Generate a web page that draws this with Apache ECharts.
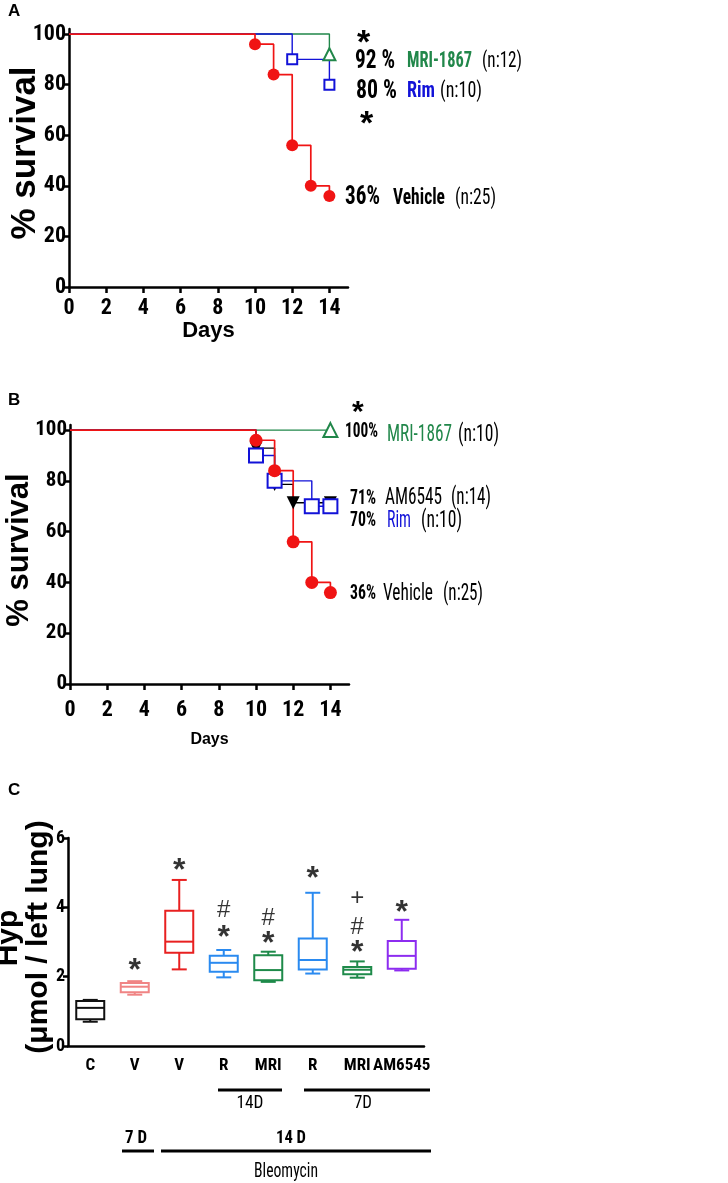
<!DOCTYPE html>
<html><head><meta charset="utf-8">
<script src="https://cdn.jsdelivr.net/npm/echarts@6/dist/echarts.min.js"></script>
<style>html,body{margin:0;padding:0;background:#fff}#c{width:728px;height:1183px}</style>
</head><body><div id="c"></div>
<script>
// ---------- Panel A (survival) ----------
const daysA_vehicle = [10, 11, 12, 13, 14];
const survA_vehicle = [96, 84, 56, 40, 36];
const daysA_rim = [12, 14];
const survA_rim = [90, 80];
const daysA_mri = [14];
const survA_mri = [92];
// ---------- Panel B (survival) ----------
const daysB_vehicle = [10, 11, 12, 13, 14];
const survB_vehicle = [96, 84, 56, 40, 36];
const daysB_am = [10, 11, 12, 14];
const survB_am = [92.9, 78.6, 71.4, 71.4];
const daysB_rim = [10, 11, 13, 14];
const survB_rim = [90, 80, 70, 70];
const daysB_mri = [14];
const survB_mri = [100];
const dayTicks = [0, 2, 4, 6, 8, 10, 12, 14];
const survTicks = [0, 20, 40, 60, 80, 100];
// ---------- Panel C (hydroxyproline box plots) ----------
const hypCategories = ['C', 'V', 'V', 'R', 'MRI', 'R', 'MRI', 'AM6545'];
const hypMin    = [0.70, 1.48, 2.21, 1.98, 1.85, 2.09, 1.97, 2.18];
const hypQ1     = [0.77, 1.55, 2.69, 2.14, 1.90, 2.21, 2.07, 2.23];
const hypMedian = [1.10, 1.71, 3.01, 2.40, 2.19, 2.48, 2.20, 2.60];
const hypQ3     = [1.30, 1.82, 3.90, 2.60, 2.62, 3.10, 2.28, 3.03];
const hypMax    = [1.33, 1.87, 4.79, 2.77, 2.72, 4.42, 2.44, 3.64];
const hypTicks = [0, 2, 4, 6];
// significance marks: category index, height, symbol
const sigCat  = [1, 2, 3, 3, 4, 4, 5, 6, 6, 6, 7];
const sigY    = [2.34, 5.22, 3.92, 3.29, 3.69, 3.12, 4.99, 4.27, 3.43, 2.86, 4.01];
const sigText = ['*', '*', '#', '*', '#', '*', '*', '+', '#', '*', '*'];

// ---- pick a condensed font if one is installed ----
function hasFont(f) {
  const c = document.createElement('canvas').getContext('2d');
  const s = 'MRI-1867 AM6545 abcdefghijklm 0123456789';
  let ok = false;
  ['monospace', 'serif'].forEach(fb => {
    c.font = 'bold 40px ' + fb; const w1 = c.measureText(s).width;
    c.font = 'bold 40px "' + f + '", ' + fb; const w2 = c.measureText(s).width;
    if (Math.abs(w1 - w2) > 0.5) ok = true;
  });
  return ok;
}
const narrowCands = ['Liberation Sans Narrow', 'Arial Narrow', 'Roboto Condensed', 'Open Sans Condensed', 'Noto Sans Condensed'];
let narrowFound = null;
for (const f of narrowCands) { if (hasFont(f)) { narrowFound = f; break; } }
const NARROW = narrowFound ? "'" + narrowFound + "', 'Liberation Sans', sans-serif" : "'Liberation Sans', Arial, sans-serif";
const AF = narrowFound ? 1 : 0.9;     // axis label size factor
const SANS = "'Liberation Sans', Arial, sans-serif";
const RED = '#f01414', BLUE = '#1212d8', GREEN = '#21874a', BLACK = '#000';
const boxColors = ['#111111', '#f08484', '#e82020', '#2a8af0', '#1e8a4a', '#2a8af0', '#1e8a4a', '#8d2cf0'];

const mctx = document.createElement('canvas').getContext('2d');
function fitScale(font, text, w) { mctx.font = font; const m = mctx.measureText(text).width; return m > 0 ? w / m : 1; }

function km(days, surv) { return [[0, 100]].concat(days.map((d, i) => [d, surv[i]])); }
function pts(days, surv) { return days.map((d, i) => [d, surv[i]]); }

function survXAxis(gi, fs, margin, nameGap, nameSize) {
  return {
    type: 'value', gridIndex: gi, min: 0, max: 15,
    axisLine: { lineStyle: { color: '#000', width: 2.5 } },
    axisTick: { length: 6, lineStyle: { width: 2.5, color: '#000' }, customValues: dayTicks },
    axisLabel: { customValues: dayTicks, color: '#000', fontFamily: NARROW, fontWeight: 'bold', fontSize: Math.round(fs * AF), margin: margin },
    splitLine: { show: false },
    name: 'Days', nameLocation: 'middle', nameGap: nameGap,
    nameTextStyle: { color: '#000', fontFamily: SANS, fontWeight: 'bold', fontSize: nameSize }
  };
}
function survYAxis(gi, fs) {
  return {
    type: 'value', gridIndex: gi, min: 0, max: 102,
    axisLine: { show: true, lineStyle: { color: '#000', width: 2.5 } },
    axisTick: { show: true, length: 5, lineStyle: { width: 2.5, color: '#000' }, customValues: survTicks },
    axisLabel: { customValues: survTicks, color: '#000', fontFamily: NARROW, fontWeight: 'bold', fontSize: Math.round(fs * AF), margin: 3 },
    splitLine: { show: false }
  };
}
function stepLine(xi, data, color, z, w) {
  return { type: 'line', xAxisIndex: xi, yAxisIndex: xi, data: data, step: 'end', showSymbol: false,
    lineStyle: { color: color, width: w || 1.4 }, z: z, silent: true, animation: false };
}
function marks(xi, data, symbol, size, color, filled, rotate) {
  return { type: 'scatter', xAxisIndex: xi, yAxisIndex: xi, data: data, symbol: symbol, symbolSize: size,
    symbolRotate: rotate || 0,
    itemStyle: filled ? { color: color, opacity: 1 } : { color: '#fff', borderColor: color, borderWidth: 2, opacity: 1 },
    z: 10, silent: true, animation: false };
}

const boxData = hypCategories.map((c, i) => [i, hypMin[i], hypQ1[i], hypMedian[i], hypQ3[i], hypMax[i]]);

function txt(x, y, text, o) {
  o = o || {};
  const font = (o.bold ? 'bold ' : '') + (o.size || 18) + 'px ' + (o.family || NARROW);
  const sq = o.w ? fitScale(font, text, o.w) : 1;
  return { type: 'text', x: x, y: y, rotation: o.rot || 0, scaleX: sq, silent: true,
    style: { text: text, fill: o.color || '#000', font: font,
      align: o.align || 'left', verticalAlign: 'middle' } };
}
function hline(x1, x2, y) {
  return { type: 'line', silent: true, shape: { x1: x1, y1: y, x2: x2, y2: y }, style: { stroke: '#000', lineWidth: 3 } };
}

const graphics = [
  txt(8, 11, 'A', { bold: true, size: 17, family: SANS }),
  txt(8, 400, 'B', { bold: true, size: 17, family: SANS }),
  txt(8, 790, 'C', { bold: true, size: 17, family: SANS }),
  txt(25, 153, '% survival', { bold: true, size: 35, family: SANS, rot: Math.PI / 2, align: 'center' }),
  txt(19, 550, '% survival', { bold: true, size: 31, family: SANS, rot: Math.PI / 2, align: 'center' }),
  txt(9, 938, 'Hyp', { bold: true, size: 30, family: SANS, rot: Math.PI / 2, align: 'center' }),
  txt(39, 937, '(\u03bcmol / left lung)', { bold: true, size: 30, family: SANS, rot: Math.PI / 2, align: 'center' }),
  // Panel A labels
  txt(357, 44, '*', { bold: true, size: 34, family: SANS }),
  txt(355, 62, '92 %', { bold: true, size: 25, w: 40 }),
  txt(407, 61, 'MRI-1867', { bold: true, size: 22, color: GREEN, w: 65 }),
  txt(482, 61, '(n:12)', { size: 22, w: 40 }),
  txt(356, 92, '80 %', { bold: true, size: 25, w: 41 }),
  txt(407, 91, 'Rim', { bold: true, size: 22, color: BLUE, w: 28 }),
  txt(440, 91, '(n:10)', { size: 22, w: 42 }),
  txt(360, 125, '*', { bold: true, size: 34, family: SANS }),
  txt(345, 198, '36%', { bold: true, size: 25, w: 35 }),
  txt(393, 198, 'Vehicle', { bold: true, size: 22, w: 52 }),
  txt(455, 198, '(n:25)', { size: 22, w: 41 }),
  // Panel B labels
  txt(352, 413, '*', { bold: true, size: 30, family: SANS }),
  txt(345, 432, '100%', { bold: true, size: 20, w: 33 }),
  txt(387, 435, 'MRI-1867', { size: 23, color: GREEN, w: 65 }),
  txt(458, 435, '(n:10)', { size: 23, w: 41 }),
  txt(350, 499, '71%', { bold: true, size: 20, w: 26 }),
  txt(385, 498, 'AM6545', { size: 23, w: 57 }),
  txt(451, 498, '(n:14)', { size: 23, w: 40 }),
  txt(350, 521, '70%', { bold: true, size: 20, w: 26 }),
  txt(387, 521, 'Rim', { size: 23, color: BLUE, w: 24 }),
  txt(421, 521, '(n:10)', { size: 23, w: 41 }),
  txt(350, 594, '36%', { bold: true, size: 20, w: 26 }),
  txt(383, 594, 'Vehicle', { size: 23, w: 50 }),
  txt(443, 594, '(n:25)', { size: 23, w: 40 }),
  // Panel C group labels
  hline(218, 282, 1090), txt(250, 1103, '14D', { size: 19, align: 'center', w: 27 }),
  hline(304, 430, 1090), txt(363, 1103, '7D', { size: 19, align: 'center', w: 18 }),
  txt(136, 1138, '7 D', { bold: true, size: 19, align: 'center', w: 22 }),
  hline(122, 154, 1151),
  txt(291, 1138, '14 D', { bold: true, size: 19, align: 'center', w: 30 }),
  hline(161, 431, 1151),
  txt(286, 1172, 'Bleomycin', { size: 20, align: 'center', w: 64 })
];

const option = {
  animation: false,
  backgroundColor: '#fff',
  grid: [
    { left: 69, top: 29, width: 279, height: 258 },
    { left: 70, top: 425, width: 279, height: 259 },
    { left: 68, top: 838, width: 356, height: 208 }
  ],
  xAxis: [
    survXAxis(0, 22, 10, 28, 22),
    survXAxis(1, 22, 15, 48, 16),
    {
      type: 'category', gridIndex: 2, data: hypCategories,
      axisLine: { lineStyle: { color: '#000', width: 2.5 } },
      axisTick: { alignWithLabel: true, length: 6, lineStyle: { width: 2.5, color: '#000' } },
      axisLabel: { color: '#000', fontFamily: NARROW, fontWeight: 'bold', fontSize: narrowFound ? 17 : 14, margin: 11, interval: 0 }
    }
  ],
  yAxis: [
    survYAxis(0, 22),
    survYAxis(1, 21),
    {
      type: 'value', gridIndex: 2, min: 0, max: 6, interval: 2,
      axisLine: { show: true, lineStyle: { color: '#000', width: 2.5 } },
      axisTick: { show: true, length: 5, lineStyle: { width: 2.5, color: '#000' } },
      axisLabel: { color: '#000', fontFamily: NARROW, fontWeight: 'bold', fontSize: Math.round(18 * AF), margin: 3 },
      splitLine: { show: false }
    }
  ],
  series: [
    // A
    stepLine(0, km(daysA_mri, survA_mri), GREEN, 2),
    stepLine(0, km(daysA_rim, survA_rim), BLUE, 3),
    stepLine(0, km(daysA_vehicle, survA_vehicle), RED, 4, 1.7),
    marks(0, pts(daysA_vehicle, survA_vehicle), 'circle', 12, RED, true),
    marks(0, pts(daysA_rim, survA_rim), 'rect', 10, BLUE, false),
    marks(0, pts(daysA_mri, survA_mri), 'triangle', 12, GREEN, false),
    // B
    stepLine(1, km(daysB_mri, survB_mri), GREEN, 2),
    stepLine(1, km(daysB_am, survB_am), BLACK, 3),
    stepLine(1, km(daysB_rim, survB_rim), BLUE, 3),
    stepLine(1, km(daysB_vehicle, survB_vehicle), RED, 4, 1.7),
    marks(1, pts(daysB_am, survB_am), 'triangle', 13, BLACK, true, 180),
    marks(1, pts(daysB_rim, survB_rim), 'rect', 14, BLUE, false),
    marks(1, pts(daysB_vehicle, survB_vehicle), 'circle', 13, RED, true),
    marks(1, pts(daysB_mri, survB_mri), 'triangle', 14, GREEN, false),
    // C
    {
      type: 'custom', xAxisIndex: 2, yAxisIndex: 2, data: boxData, silent: true,
      encode: { x: 0, y: [1, 2, 3, 4, 5] },
      renderItem: function (params, api) {
        const i = api.value(0);
        const x = api.coord([i, 0])[0];
        const yMin = api.coord([i, api.value(1)])[1];
        const yQ1 = api.coord([i, api.value(2)])[1];
        const yMed = api.coord([i, api.value(3)])[1];
        const yQ3 = api.coord([i, api.value(4)])[1];
        const yMax = api.coord([i, api.value(5)])[1];
        const bw = 28, cw = 15;
        const st = { stroke: boxColors[params.dataIndex], lineWidth: 2, fill: null };
        const L = (x1, y1, x2, y2) => ({ type: 'line', shape: { x1: x1, y1: y1, x2: x2, y2: y2 }, style: st });
        return { type: 'group', children: [
          L(x, yQ3, x, yMax), L(x, yQ1, x, yMin),
          L(x - cw / 2, yMax, x + cw / 2, yMax), L(x - cw / 2, yMin, x + cw / 2, yMin),
          { type: 'rect', shape: { x: x - bw / 2, y: yQ3, width: bw, height: yQ1 - yQ3 }, style: { stroke: st.stroke, lineWidth: 2, fill: '#fff' } },
          L(x - bw / 2, yMed, x + bw / 2, yMed)
        ] };
      }
    },
    {
      type: 'scatter', xAxisIndex: 2, yAxisIndex: 2, silent: true, symbolSize: 1,
      itemStyle: { color: 'rgba(0,0,0,0)' },
      data: sigCat.map((c, i) => ({
        value: [c, sigY[i]],
        label: sigText[i] === '*' ? { fontSize: 32, fontWeight: 'bold', offset: [0, 6] } : { fontSize: 24 }
      })),
      label: { show: true, position: 'inside', color: '#000', fontFamily: SANS,
        formatter: p => sigText[p.dataIndex] }
    }
  ],
  graphic: graphics
};
const chart = echarts.init(document.getElementById('c'), null, { renderer: 'canvas' });
chart.setOption(option);
</script>
</body></html>
